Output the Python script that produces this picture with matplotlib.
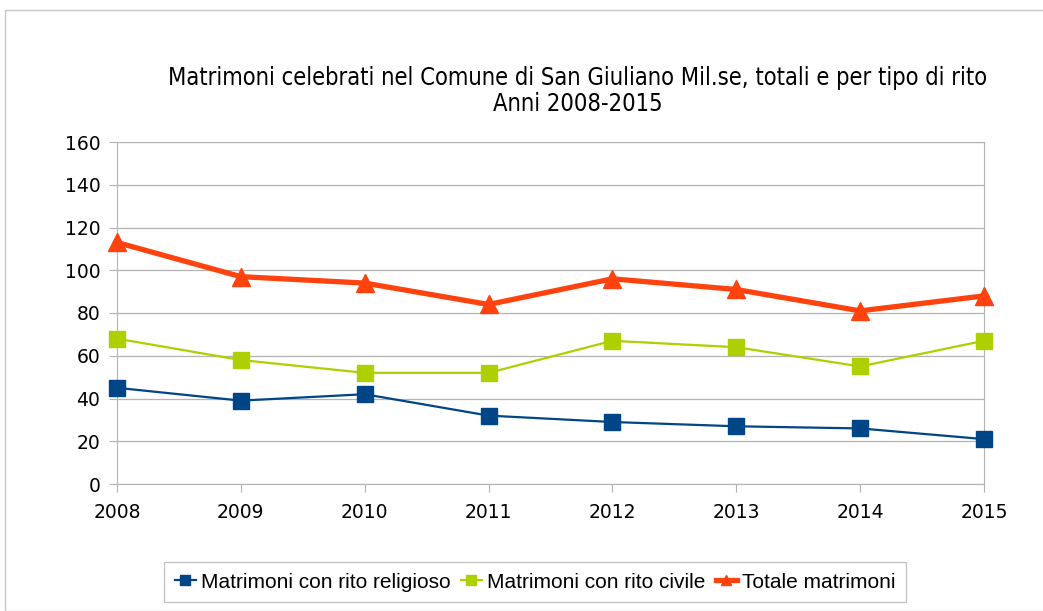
import matplotlib
matplotlib.use("Agg")
import matplotlib.pyplot as plt
from matplotlib.patches import Rectangle

years = ["2008", "2009", "2010", "2011", "2012", "2013", "2014", "2015"]
religioso = [45, 39, 42, 32, 29, 27, 26, 21]
civile = [68, 58, 52, 52, 67, 64, 55, 67]
totale = [113, 97, 94, 84, 96, 91, 81, 88]
yticks = [0, 20, 40, 60, 80, 100, 120, 140, 160]

W, H = 1043, 611
fig = plt.figure(figsize=(W / 100, H / 100), dpi=100)
ax = fig.add_axes([117 / W, 1 - 484 / H, (984 - 117) / W, (484 - 142) / H])

x = list(range(len(years)))
ax.plot(x, religioso, color="#004586", lw=1.6, marker="s", ms=12, label="Matrimoni con rito religioso", clip_on=False, zorder=3)
ax.plot(x, civile, color="#aecf00", lw=1.6, marker="s", ms=12, label="Matrimoni con rito civile", clip_on=False, zorder=3)
ax.plot(x, totale, color="#ff420e", lw=3.8, marker="^", ms=13, label="Totale matrimoni", clip_on=False, zorder=4)

ax.set_xlim(0, len(years) - 1)
ax.set_ylim(0, 160)
ax.set_yticks(yticks)
ax.set_xticks(x)
ax.set_xticklabels(years)
ax.grid(axis="y", color="#b3b3b3", lw=0.9)
ax.grid(axis="x", visible=False)
for s in ["top", "right", "left", "bottom"]:
    ax.spines[s].set_color("#b3b3b3")
ax.tick_params(axis="both", colors="#b3b3b3", labelcolor="black", labelsize=13.5, length=6)
ax.tick_params(axis="y", pad=6)
ax.tick_params(axis="x", pad=8)
for lbl in ax.get_xticklabels() + ax.get_yticklabels():
    lbl.set_family("DejaVu Sans")

fig.text(578 / W, 1 - 91 / H, "Matrimoni celebrati nel Comune di San Giuliano Mil.se, totali e per tipo di rito\nAnni 2008-2015",
         ha="center", va="center", fontsize=17, family="DejaVu Sans", fontstretch="condensed", linespacing=1.15)

leg = fig.legend(loc="center", bbox_to_anchor=(535 / W, 1 - 582 / H), ncol=3, frameon=True, fancybox=False,
                 prop={"family": "Liberation Sans", "size": 15}, handlelength=1.0, handletextpad=0.25,
                 columnspacing=0.5, markerscale=0.55, borderpad=0.5, edgecolor="#b3b3b3")
leg.get_frame().set_linewidth(0.9)

fig.patches.append(Rectangle((5 / W, 0), 1.0, 1 - 10 / H, transform=fig.transFigure, fill=False,
                             edgecolor="#c8c8c8", lw=1.0))

fig.savefig("out.png", dpi=100)
